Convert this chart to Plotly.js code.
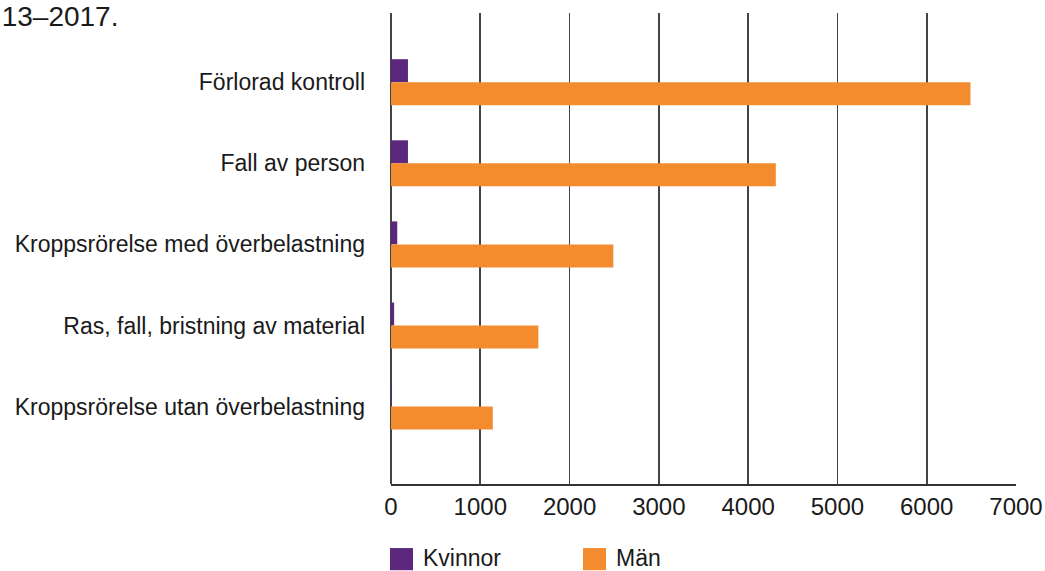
<!DOCTYPE html>
<html>
<head>
<meta charset="utf-8">
<script src="https://cdn.plot.ly/plotly-3.0.1.min.js"></script>
<style>
  html, body { margin: 0; padding: 0; background: #ffffff; }
  #chart { width: 1045px; height: 571px; }
</style>
</head>
<body>
<div id="chart"></div>
<script>
// ---- Data ----
const categories = [
  "Förlorad kontroll",
  "Fall av person",
  "Kroppsrörelse med överbelastning",
  "Ras, fall, bristning av material",
  "Kroppsrörelse utan överbelastning"
];
const seriesNames = ["Kvinnor", "Män"];
const kvinnor = [190, 190, 70, 35, 5];
const man = [6490, 4310, 2490, 1650, 1140];
const xTickValues = [0, 1000, 2000, 3000, 4000, 5000, 6000, 7000];
const xTickLabels = ["0", "1000", "2000", "3000", "4000", "5000", "6000", "7000"];
const titleText = "13–2017.";

// ---- Styling ----
const FONT = "'Liberation Sans', Arial, sans-serif";
const colors = ["#5b287e", "#f28c2e"];

const traces = [
  {
    type: "bar", orientation: "h", name: seriesNames[0],
    y: categories, x: kvinnor,
    marker: { color: colors[0] }, hoverinfo: "x+name"
  },
  {
    type: "bar", orientation: "h", name: seriesNames[1],
    y: categories, x: man,
    marker: { color: colors[1] }, hoverinfo: "x+name"
  }
];

// custom legend (square swatches + labels) below the axis
const legendItems = [
  { x0: -0.0016, x1: 0.0352, tx: 0.0480 },
  { x0: 0.3072, x1: 0.3440, tx: 0.3568 }
];
const shapes = legendItems.map((it, i) => ({
  type: "rect", xref: "paper", yref: "paper",
  x0: it.x0, x1: it.x1, y0: -0.136, y1: -0.183,
  fillcolor: colors[i], line: { width: 0 }
}));
const annotations = legendItems.map((it, i) => ({
  xref: "paper", yref: "paper", x: it.tx, y: -0.157,
  xanchor: "left", yanchor: "middle", showarrow: false,
  text: seriesNames[i], font: { family: FONT, size: 23, color: "#1a1a1a" }
}));

const layout = {
  width: 1045, height: 571,
  margin: { l: 391, r: 29, t: 13, b: 87, pad: 0 },
  paper_bgcolor: "#ffffff", plot_bgcolor: "#ffffff",
  font: { family: FONT, color: "#1a1a1a" },
  title: {
    text: titleText, xref: "container", yref: "container",
    x: 0.0016, xanchor: "left", y: 0.9725, yanchor: "middle",
    font: { family: FONT, size: 28, color: "#1a1a1a" }
  },
  showlegend: false,
  barmode: "group",
  bargap: 0.433,
  bargroupgap: 0,
  xaxis: {
    range: [0, 7000],
    tickmode: "array", tickvals: xTickValues, ticktext: xTickLabels,
    showgrid: true, gridcolor: "#444444", gridwidth: 1.8,
    zeroline: true, zerolinecolor: "#444444", zerolinewidth: 1.8,
    showline: true, linecolor: "#333333", linewidth: 1.6,
    ticks: "", ticklabelstandoff: 1,
    tickfont: { family: FONT, size: 24, color: "#1a1a1a" },
    fixedrange: true
  },
  yaxis: {
    type: "category",
    range: [4.954, -0.853],
    showgrid: false, zeroline: false, showline: false,
    ticks: "", ticklabelstandoff: 25,
    tickfont: { family: FONT, size: 23, color: "#1a1a1a" },
    fixedrange: true
  },
  shapes: shapes,
  annotations: annotations
};

Plotly.newPlot("chart", traces, layout, { displayModeBar: false, staticPlot: true });
</script>
</body>
</html>
